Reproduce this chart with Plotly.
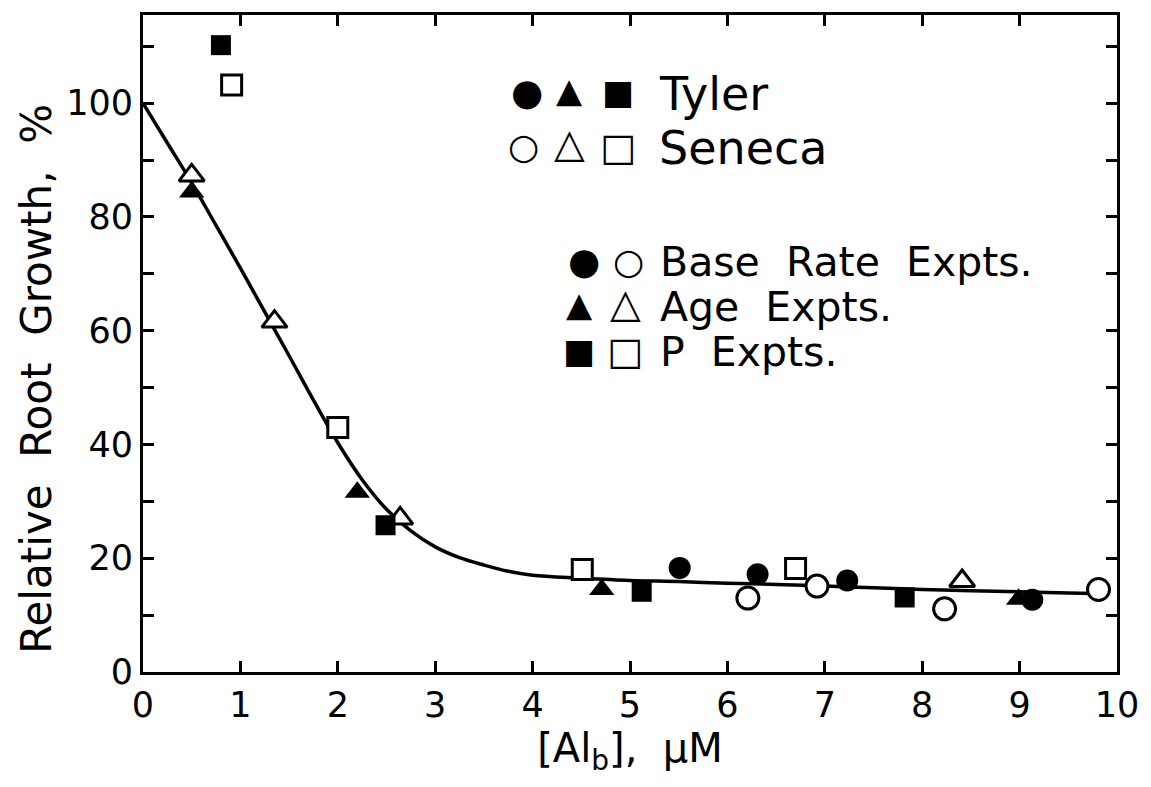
import plotly.graph_objects as go

# --- data ---
tyler_base_x = [5.51, 6.31, 7.23, 9.13]
tyler_base_y = [18.3, 17.2, 16.1, 12.7]
tyler_age_x = [0.50, 2.20, 4.71, 8.99]
tyler_age_y = [84.4, 31.6, 14.5, 12.8]
tyler_p_x = [0.80, 2.49, 5.12, 7.82]
tyler_p_y = [110.2, 25.8, 14.1, 13.1]

seneca_base_x = [6.21, 6.92, 8.23, 9.81]
seneca_base_y = [13.0, 15.1, 11.1, 14.5]
seneca_age_x = [0.50, 1.35, 2.64, 8.41]
seneca_age_y = [87.3, 61.6, 27.0, 16.0]
seneca_p_x = [0.91, 2.00, 4.51, 6.70]
seneca_p_y = [103.2, 43.0, 18.0, 18.2]

fit_x = [0, 0.25, 0.5, 0.75, 1.0, 1.25, 1.5, 1.75, 2.0, 2.25, 2.5, 2.75, 3.0,
         3.25, 3.5, 3.75, 4.0, 4.5, 5.0, 5.5, 6.0, 6.5, 7.0, 7.5, 8.0, 8.5,
         9.0, 9.5, 9.75]
fit_y = [100, 93, 86, 78.5, 71, 63.3, 55.6, 47.8, 40.3, 33.8, 28.6, 24.8, 22.0,
         20.1, 18.8, 17.7, 17.0, 16.5, 16.1, 15.9, 15.6, 15.4, 15.1, 14.8, 14.5,
         14.3, 14.1, 13.9, 13.8]

x_ticks = list(range(0, 11))
y_ticks = list(range(0, 101, 20))

FONT = "DejaVu Sans"
W, H = 1151, 787
ML, MR, MT, MB = 143, 26, 13, 115

fig = go.Figure()

fig.add_trace(go.Scatter(x=fit_x, y=fit_y, mode="lines",
                         line=dict(color="black", width=3.5, shape="spline"),
                         showlegend=False, hoverinfo="skip"))

def add(xs, ys, symbol, filled):
    fig.add_trace(go.Scatter(
        x=xs, y=ys, mode="markers", showlegend=False,
        marker=dict(symbol=symbol,
                    size=22 if symbol != "square" else 20,
                    color="black" if filled else "white",
                    line=dict(color="black", width=3 if not filled else 0))))

add(seneca_base_x, seneca_base_y, "circle", False)
add(seneca_age_x, seneca_age_y, "triangle-up", False)
add(seneca_p_x, seneca_p_y, "square", False)
add(tyler_base_x, tyler_base_y, "circle", True)
add(tyler_age_x, tyler_age_y, "triangle-up", True)
add(tyler_p_x, tyler_p_y, "square", True)

# legend built from annotations (pixel positions converted to paper coords)
pw, ph = W - ML - MR, H - MT - MB
def px(x):
    return (x - ML) / pw
def py(y):
    return (H - MB - y) / ph

def ann(x, y, text, size, xanchor="center", angle=0):
    fig.add_annotation(x=px(x), y=py(y), xref="paper", yref="paper",
                       text=text, showarrow=False, xanchor=xanchor,
                       yanchor="middle", textangle=angle,
                       font=dict(family=FONT, size=size, color="black"))

FC, OC, FT, OT, FS, OS = 37, 36, 34, 40, 34, 38
ann(530, 91, "●", FC)
ann(573, 88, "▲", FT)
ann(622, 90, "■", FS)
ann(527, 145, "○", OC)
ann(573, 141, "△", OT)
ann(622, 145, "□", OS)
ann(661, 92, "Tyler", 46, "left")
ann(661, 146, "Seneca", 46, "left")

ann(588, 260, "●", FC)
ann(632, 260, "○", OC)
ann(583, 303, "▲", FT)
ann(629, 302, "△", OT)
ann(583, 350, "■", FS)
ann(629, 350, "□", OS)
ann(662, 261, "Base\u00a0\u00a0Rate\u00a0\u00a0Expts.", 41, "left")
ann(662, 306, "Age\u00a0\u00a0Expts.", 41, "left")
ann(662, 351, "P\u00a0\u00a0Expts.", 41, "left")

# y-axis title as rotated annotation
ann(36, 378, "Relative\u00a0\u00a0Root\u00a0\u00a0Growth,\u00a0\u00a0%", 42, "center", -90)

axis_common = dict(showline=True, linecolor="black", linewidth=3,
                   mirror="ticks", ticks="inside", ticklen=11, tickwidth=3,
                   tickcolor="black", showgrid=False, zeroline=False,
                   tickfont=dict(family=FONT, size=35, color="black"))

fig.update_xaxes(range=[0, 10], tickvals=x_ticks,
                 ticktext=[str(v) for v in x_ticks],
                 title=dict(text="[Al<sub>b</sub>], \u00a0\u03bcM",
                            font=dict(family=FONT, size=40, color="black"),
                            standoff=2),
                 **axis_common)
fig.update_yaxes(range=[0, 115.5], tickvals=y_ticks,
                 ticktext=[str(v) for v in y_ticks],
                 minor=dict(dtick=10, tick0=0, ticks="inside", ticklen=11,
                            tickwidth=3, tickcolor="black", showgrid=False),
                 **axis_common)

fig.update_layout(width=W, height=H, plot_bgcolor="white", paper_bgcolor="white",
                  margin=dict(l=ML, r=MR, t=MT, b=MB), showlegend=False)

fig.write_html("out.html")
